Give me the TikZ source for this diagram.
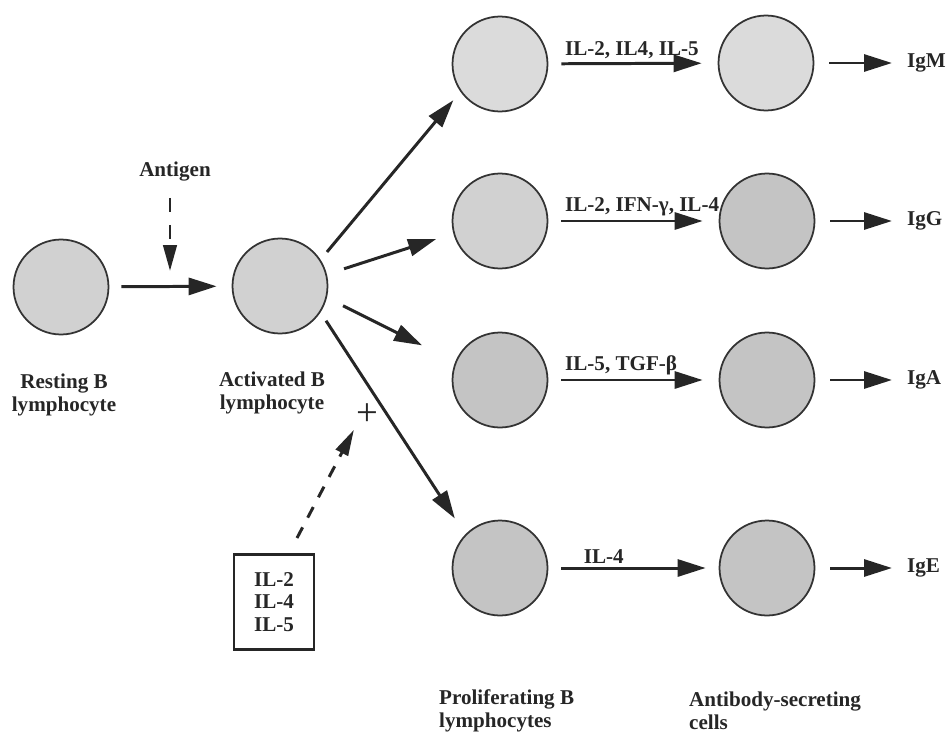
\documentclass[tikz,border=0pt]{standalone}
\usepackage{fontspec}
\setmainfont{Liberation Serif}
\usetikzlibrary{positioning, arrows.meta}

\begin{document}
\begin{tikzpicture}[
        x=0.02cm, y=-0.02cm,
        every node/.style={font=\fontsize{12}{13}\selectfont\bfseries, text=black!85},
        cell/.style={circle, draw=black!80, line width=1pt, fill=black!18, minimum size=1.9cm, inner sep=0pt},
        celldark/.style={cell, fill=black!23},
        caption/.style={align=center},
        tag/.style={anchor=south west, inner xsep=0pt, inner ysep=2pt},
        flow/.style={draw=black!85, line width=1.7pt, -{Triangle[length=0.56cm, width=0.34cm]}},
        hint/.style={draw=black!85, line width=1.7pt, dash pattern=on 0.28cm off 0.26cm, -{Triangle[length=0.52cm, width=0.27cm]}},
        cytobox/.style={draw=black!85, line width=1.3pt, align=center, minimum width=1.6cm, minimum height=1.9cm}
    ]
    \useasboundingbox (0,0) rectangle (946,737);

    % Resting and activated cells
    \node[cell] (resting) at (61,287) {};
    \node[cell] (activated) at (280,286) {};
    \node[caption] (restingLbl) at (64,395) {Resting B\\lymphocyte};
    \node[caption] (activatedLbl) at (272,393) {Activated B\\lymphocyte};

    % Antigen signal
    \node (antigen) at (175,172) {Antigen};
    \coordinate (antigenTip) at (170,271);
    \draw[hint, shorten <=0.2cm] (antigen.south -| antigenTip) -- (antigenTip);
    \draw[flow, shorten <=0.24cm, shorten >=0.3cm] (resting) -- (activated);

    % Proliferating B lymphocytes
    \node[cell, fill=black!14] (prolifM) at (500,64) {};
    \node[cell] (prolifG) at (500,221) {};
    \node[celldark] (prolifA) at (500,380) {};
    \node[celldark] (prolifE) at (500,568) {};

    % Antibody-secreting cells
    \node[cell, fill=black!14] (secM) at (766,63) {};
    \node[celldark] (secG) at (767,221) {};
    \node[celldark] (secA) at (767,380) {};
    \node[celldark] (secE) at (767,568) {};

    % Antibody classes
    \node[anchor=west] (igM) at (901,63) {IgM};
    \node[anchor=west] (igG) at (901,221) {IgG};
    \node[anchor=west] (igA) at (901,380) {IgA};
    \node[anchor=west] (igE) at (901,568) {IgE};

    % Branches from the activated cell
    \draw[flow, shorten <=0.2cm, shorten >=0.22cm] (activated.33) -- (prolifM.215);
    \draw[flow, shorten <=0.36cm, shorten >=0.36cm] (activated.14) -- (prolifG.195);
    \draw[flow, shorten <=0.36cm, shorten >=0.74cm] (activated.-14) -- (prolifA.158);
    \draw[flow, shorten <=0.2cm, shorten >=0.38cm] (activated.-33) -- (prolifE.136);

    % Cytokine box and plus sign
    \node[cytobox] (cytokines) at (274,602) {IL-2\\IL-4\\IL-5};
    \node[font=\fontsize{22}{22}\selectfont\mdseries, inner sep=0pt] (plus) at (367,415) {+};
    \coordinate (cytoTail) at (297,538);
    \draw[hint, dash pattern=on 0.24cm off 0.22cm, shorten >=0.08cm] (cytoTail) -- (plus.south west);

    % Switching arrows with cytokines
    \draw[flow, shorten <=0.26cm, shorten >=0.32cm] (prolifM) -- node[tag, pos=0.09] (cytM) {IL-2, IL4, IL-5} (secM);
    \draw[flow, shorten <=0.26cm, shorten >=0.32cm] (prolifG) -- node[tag, pos=0.09] (cytG) {IL-2, IFN-γ, IL-4} (secG);
    \draw[flow, shorten <=0.26cm, shorten >=0.32cm] (prolifA) -- node[tag, pos=0.09] (cytA) {IL-5, TGF-β} (secA);
    \draw[flow, shorten <=0.26cm, shorten >=0.26cm] (prolifE) -- node[tag, pos=0.2] (cytE) {IL-4} (secE);

    % Secretion arrows
    \draw[flow, shorten <=0.3cm, shorten >=0.18cm] (secM) -- (igM);
    \draw[flow, shorten <=0.3cm, shorten >=0.18cm] (secG) -- (igG);
    \draw[flow, shorten <=0.3cm, shorten >=0.18cm] (secA) -- (igA);
    \draw[flow, shorten <=0.3cm, shorten >=0.18cm] (secE) -- (igE);

    % Bottom labels
    \node[anchor=west, align=left] (prolifLbl) at (433,711) {Proliferating B\\lymphocytes};
    \node[anchor=west, align=left] (secLbl) at (683,711) {Antibody-secreting\\cells};

\end{tikzpicture}
\end{document}
